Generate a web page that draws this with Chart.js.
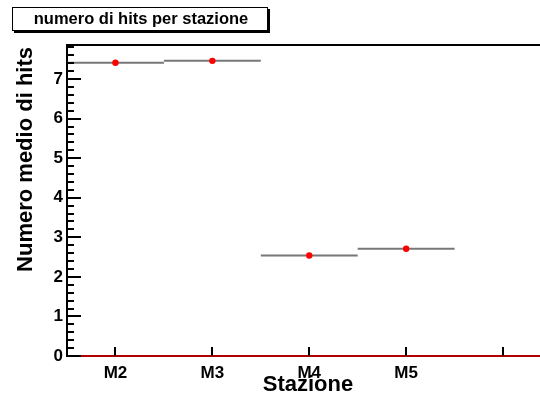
<!DOCTYPE html>
<html>
<head>
<meta charset="utf-8">
<script src="https://cdn.jsdelivr.net/npm/chart.js@4/dist/chart.umd.min.js"></script>
<style>
  html, body { margin: 0; padding: 0; background: #ffffff; }
  canvas { display: block; }
</style>
</head>
<body>
<canvas id="c" width="540" height="397"></canvas>
<script>
// Stations and the mean number of hits recorded in each one
const stations = ['M2', 'M3', 'M4', 'M5'];
const meanHits = [7.41, 7.46, 2.54, 2.71];
// Bin index (1-based) of each station on the x axis; each bin is one unit wide
const binCenters = [1, 2, 3, 4];
const binHalfWidth = 0.5;
// Axis ticks
const yTickValues = [0, 1, 2, 3, 4, 5, 6, 7];
const xTickValues = [1, 2, 3, 4, 5];
const xTickLabels = ['M2', 'M3', 'M4', 'M5', ''];
const yRange = [0, 7.86];
const xRange = [0.5, 5.34];
// The zero baseline runs on to the right edge of the canvas
const baselineEnd = 5.39;

const FONT = "'Liberation Sans', Arial, Helvetica, sans-serif";

// One short horizontal segment per bin (x error bar)
const binSegments = stations.map((s, i) => ({
  type: 'line',
  data: [
    { x: binCenters[i] - binHalfWidth, y: meanHits[i] },
    { x: binCenters[i] + binHalfWidth, y: meanHits[i] }
  ],
  borderColor: '#777777',
  borderWidth: 2,
  pointRadius: 0,
  clip: false,
  order: 2
}));

const markers = {
  type: 'scatter',
  data: stations.map((s, i) => ({ x: binCenters[i], y: meanHits[i] })),
  backgroundColor: '#ff0000',
  borderColor: '#ff0000',
  pointRadius: 3.2,
  borderWidth: 0,
  order: 1
};

// Zero baseline of the histogram
const baseline = {
  type: 'line',
  data: [{ x: xRange[0], y: 0 }, { x: baselineEnd, y: 0 }],
  borderColor: '#b00000',
  borderWidth: 2,
  pointRadius: 0,
  clip: false,
  order: 3
};

// Frame, tick marks, axis titles and the title box
const decorations = {
  id: 'decorations',
  afterDraw(chart) {
    const ctx = chart.ctx;
    const area = chart.chartArea;
    const ys = chart.scales.y;
    const xs = chart.scales.x;
    ctx.save();

    // top frame line
    ctx.strokeStyle = '#000';
    ctx.lineWidth = 2;
    ctx.beginPath();
    ctx.moveTo(area.left - 1, area.top);
    ctx.lineTo(chart.width, area.top);
    ctx.stroke();

    // y axis ticks: majors every 1, minors every 0.2
    ctx.lineWidth = 2;
    for (let k = 0; k * 0.2 <= yRange[1] + 1e-9; k++) {
      const v = k * 0.2;
      const py = Math.round(ys.getPixelForValue(v));
      const len = (k % 5 === 0) ? 14 : 7;
      if (py < area.top + 1) continue;
      ctx.beginPath();
      ctx.moveTo(area.left, py);
      ctx.lineTo(area.left + len, py);
      ctx.stroke();
    }

    // x axis ticks
    xTickValues.forEach(v => {
      const px = Math.round(xs.getPixelForValue(v));
      ctx.beginPath();
      ctx.moveTo(px, area.bottom);
      ctx.lineTo(px, area.bottom - 9);
      ctx.stroke();
    });

    // axis titles
    ctx.fillStyle = '#000';
    ctx.font = 'bold 22px ' + FONT;
    ctx.save();
    ctx.translate(32, area.top + 2);
    ctx.rotate(-Math.PI / 2);
    ctx.textAlign = 'right';
    ctx.textBaseline = 'alphabetic';
    ctx.fillText('Numero medio di hits', 0, 0);
    ctx.restore();

    ctx.font = 'bold 22px ' + FONT;
    ctx.textAlign = 'center';
    ctx.textBaseline = 'alphabetic';
    ctx.fillText('Stazione', 308, 391);

    // title box with shadow
    ctx.fillStyle = '#000';
    ctx.fillRect(14, 9, 256, 24);
    ctx.fillStyle = '#fff';
    ctx.fillRect(12, 7, 256, 24);
    ctx.strokeStyle = '#000';
    ctx.lineWidth = 1;
    ctx.strokeRect(12.5, 7.5, 255, 23);
    ctx.fillStyle = '#000';
    ctx.font = 'bold 16.5px ' + FONT;
    ctx.textAlign = 'center';
    ctx.textBaseline = 'middle';
    ctx.fillText('numero di hits per stazione', 141, 19.5);

    ctx.restore();
  }
};

new Chart(document.getElementById('c'), {
  data: { datasets: [markers, ...binSegments, baseline] },
  options: {
    responsive: false,
    animation: false,
    events: [],
    layout: { padding: { top: 45, right: 0, bottom: 0, left: 0 } },
    plugins: { legend: { display: false }, tooltip: { enabled: false }, title: { display: false } },
    scales: {
      x: {
        type: 'linear',
        min: xRange[0],
        max: xRange[1],
        afterFit(scale) { scale.height = 41; scale.paddingRight = 0; },
        afterBuildTicks(scale) { scale.ticks = xTickValues.map(v => ({ value: v })); },
        grid: { display: false, drawTicks: false },
        border: { display: true, color: '#8a8a8a', width: 1 },
        ticks: {
          padding: 7,
          autoSkip: false,
          maxRotation: 0,
          color: '#000',
          font: { family: FONT, size: 17, weight: 'bold' },
          callback: (v) => xTickLabels[xTickValues.indexOf(v)] ?? ''
        }
      },
      y: {
        type: 'linear',
        min: yRange[0],
        max: yRange[1],
        afterFit(scale) { scale.width = 67; },
        afterBuildTicks(scale) { scale.ticks = yTickValues.map(v => ({ value: v })); },
        grid: { display: false, drawTicks: false },
        border: { display: true, color: '#000', width: 2 },
        ticks: {
          padding: 4,
          color: '#000',
          font: { family: FONT, size: 17, weight: 'bold' },
          callback: (v) => String(v)
        }
      }
    }
  },
  plugins: [decorations]
});
</script>
</body>
</html>
